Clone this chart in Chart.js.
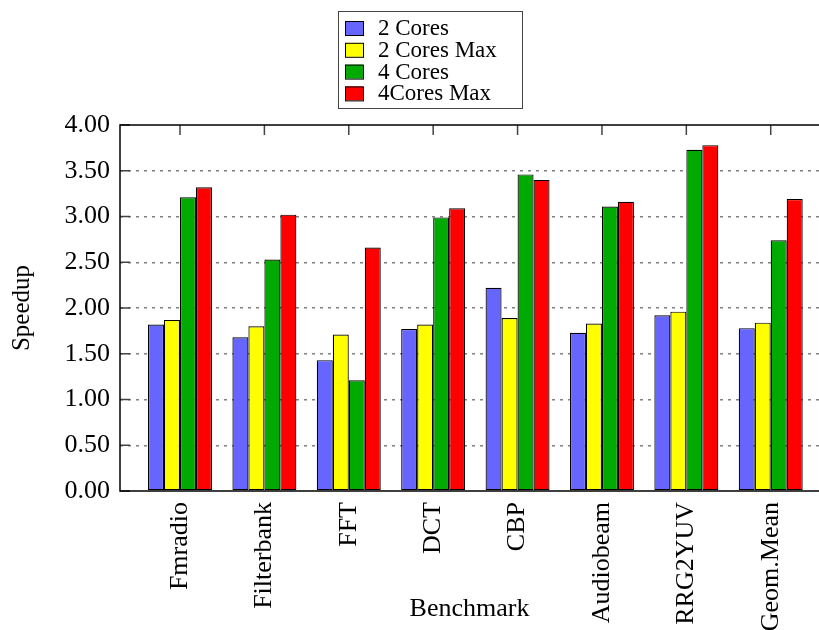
<!DOCTYPE html>
<html>
<head>
<meta charset="utf-8">
<script src="https://cdn.jsdelivr.net/npm/chart.js@4/dist/chart.umd.min.js"></script>
<style>
  body { margin: 0; background: #fff; }
  #wrap { width: 819px; height: 630px; }
</style>
</head>
<body>
<div id="wrap"><canvas id="canvas" width="819" height="630"></canvas></div>
<script>
const benchmarks = ["Fmradio", "Filterbank", "FFT", "DCT", "CBP", "Audiobeam", "RRG2YUV", "Geom.Mean"];
const seriesNames = ["2 Cores", "2 Cores Max", "4 Cores", "4Cores Max"];
const cores2 = [1.82, 1.68, 1.43, 1.77, 2.22, 1.73, 1.92, 1.78];
const cores2Max = [1.87, 1.80, 1.71, 1.82, 1.89, 1.83, 1.96, 1.84];
const cores4 = [3.21, 2.53, 1.21, 2.99, 3.46, 3.11, 3.73, 2.74];
const cores4Max = [3.32, 3.02, 2.66, 3.09, 3.40, 3.16, 3.78, 3.19];
const colors = ["#6666ff", "#ffff00", "#00aa00", "#ff0000"];

const serif = "'Liberation Serif', 'Times New Roman', serif";

// frame, inward ticks and the boxed legend (gnuplot look)
const decor = {
  id: "decor",
  afterDatasetsDraw: (chart) => {
    const ctx = chart.ctx;
    const area = chart.chartArea;
    const x = chart.scales.x;
    const y = chart.scales.y;
    ctx.save();
    ctx.strokeStyle = "#444";
    ctx.lineWidth = 1.5;
    ctx.beginPath();
    y.ticks.forEach(t => {
      const py = y.getPixelForValue(t.value);
      ctx.moveTo(area.left, py);
      ctx.lineTo(area.left + 10, py);
    });
    x.ticks.forEach((t, i) => {
      const px = x.getPixelForValue(i);
      ctx.moveTo(px, area.top);
      ctx.lineTo(px, area.top + 10);
    });
    ctx.stroke();

    ctx.strokeStyle = "#000";
    ctx.lineWidth = 1.5;
    ctx.beginPath();
    ctx.moveTo(area.right, area.top);
    ctx.lineTo(area.left, area.top);
    ctx.lineTo(area.left, area.bottom);
    ctx.lineTo(area.right, area.bottom);
    ctx.stroke();

    // legend
    ctx.strokeStyle = "#444";
    ctx.lineWidth = 1;
    ctx.strokeRect(338.5, 11.5, 184, 97);
    ctx.font = "23px " + serif;
    ctx.textBaseline = "middle";
    chart.data.datasets.forEach((ds, i) => {
      const cy = 28 + i * 21.8;
      ctx.fillStyle = ds.backgroundColor;
      ctx.fillRect(345, cy - 7, 18, 14);
      ctx.strokeStyle = "#000";
      ctx.strokeRect(345.5, cy - 6.5, 18, 14);
      ctx.fillStyle = "#000";
      ctx.fillText(ds.label, 378, cy + 1);
    });
    ctx.restore();
  }
};

const datasets = [cores2, cores2Max, cores4, cores4Max].map((d, i) => ({
  label: seriesNames[i],
  data: d,
  backgroundColor: colors[i],
  borderColor: "#000",
  borderWidth: 1.2,
  borderSkipped: false,
  barPercentage: 1,
  categoryPercentage: 0.758
}));

new Chart(document.getElementById("canvas").getContext("2d"), {
  type: "bar",
  data: { labels: benchmarks, datasets: datasets },
  plugins: [decor],
  options: {
    responsive: false,
    devicePixelRatio: 1,
    animation: false,
    layout: { padding: { top: 125, right: 0, left: 0, bottom: 0 } },
    plugins: {
      legend: { display: false },
      tooltip: { enabled: false }
    },
    scales: {
      x: {
        offset: false,
        grid: { display: false, drawTicks: false },
        border: { display: false },
        ticks: {
          color: "#000",
          font: { family: serif, size: 26 },
          minRotation: 90,
          maxRotation: 90,
          autoSkip: false,
          padding: 11
        },
        title: {
          display: true,
          text: "Benchmark",
          color: "#000",
          font: { family: serif, size: 26 },
          padding: { top: 0, bottom: 5 }
        },
        afterBuildTicks: (s) => {
          // gnuplot leaves a wider gap before the first group than a half category
          s._startValue = -0.711;
          s._valueRange = 8.283;
        },
        afterFit: (s) => { s.height = 139; }
      },
      y: {
        min: 0,
        max: 4,
        ticks: {
          stepSize: 0.5,
          color: "#000",
          font: { family: serif, size: 26 },
          padding: 10,
          callback: v => v.toFixed(2)
        },
        grid: {
          drawTicks: false,
          lineWidth: 1.5,
          color: c => (c.tick.value === 0 || c.tick.value === 4) ? "rgba(0,0,0,0)" : "#808080"
        },
        border: { display: false, dash: [3, 5] },
        title: {
          display: true,
          text: "Speedup",
          color: "#000",
          font: { family: serif, size: 25 },
          padding: { top: 7, bottom: 0 }
        },
        afterFit: (s) => { s.width = 120; }
      }
    }
  }
});
</script>
</body>
</html>
